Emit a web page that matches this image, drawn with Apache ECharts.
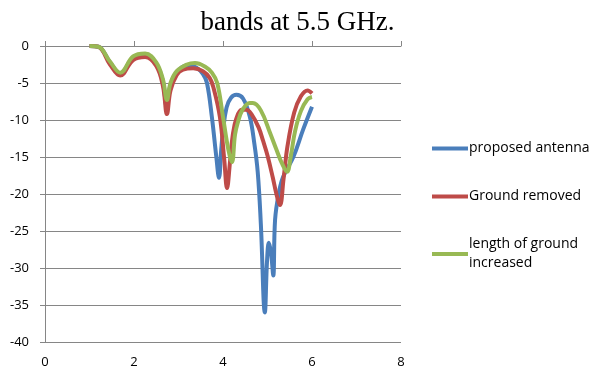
<!DOCTYPE html>
<html>
<head>
<meta charset="utf-8">
<script src="https://cdn.jsdelivr.net/npm/echarts@6/dist/echarts.min.js"></script>
<style>
  html, body { margin: 0; padding: 0; background: #fff; }
  #chart { width: 595px; height: 376px; }
</style>
</head>
<body>
<div id="chart"></div>
<script>
// frequency (GHz) and return loss (dB)
var freqBlue = [1.0, 1.2, 1.46, 1.69, 1.98, 2.25, 2.5, 2.65, 2.73, 2.82, 2.96, 3.2, 3.4, 3.55, 3.64, 3.75, 3.85, 3.91, 3.96, 4.0, 4.08, 4.18, 4.3, 4.45, 4.6, 4.7, 4.78, 4.85, 4.94, 4.99, 5.03, 5.08, 5.13, 5.17, 5.25, 5.35, 5.58, 5.8, 6.0];
var lossBlue = [0, -0.1, -2.2, -3.7, -1.6, -1.2, -2.4, -4.8, -8.0, -5.3, -3.6, -2.6, -2.9, -3.8, -5.0, -9.6, -15, -17.8, -14, -11.5, -8.3, -7.0, -6.6, -7.1, -9.5, -13, -17, -24, -36, -29, -26.6, -28, -31, -23.5, -20, -17.7, -15, -11.3, -8.2];

var freqRed = [1.0, 1.2, 1.46, 1.69, 1.98, 2.25, 2.5, 2.65, 2.74, 2.82, 2.96, 3.1, 3.33, 3.55, 3.7, 3.78, 3.93, 4.03, 4.09, 4.16, 4.22, 4.3, 4.42, 4.52, 4.65, 4.8, 4.9, 5.0, 5.12, 5.2, 5.28, 5.36, 5.45, 5.6, 5.75, 5.9, 6.0];
var lossRed = [0, -0.1, -2.5, -4.0, -1.9, -1.5, -2.7, -5.4, -9.2, -6.0, -3.9, -3.2, -3.0, -3.4, -4.3, -5.5, -9.6, -15.5, -19.2, -15.5, -12, -9.8, -8.6, -8.6, -9.3, -11, -12.8, -14.8, -17.8, -20, -21.5, -18, -13.5, -9, -6.8, -6.0, -6.4];

var freqGreen = [1.0, 1.2, 1.46, 1.69, 1.98, 2.25, 2.5, 2.65, 2.74, 2.82, 2.96, 3.19, 3.37, 3.6, 3.75, 3.87, 4.0, 4.12, 4.2, 4.27, 4.33, 4.44, 4.6, 4.67, 4.85, 5.06, 5.2, 5.32, 5.44, 5.52, 5.62, 5.75, 5.9, 6.0];
var lossGreen = [0, -0.1, -2.1, -3.6, -1.4, -1.0, -2.2, -4.5, -7.3, -5.0, -3.4, -2.5, -2.3, -2.8, -3.6, -5.0, -9.6, -14, -15.7, -12, -10.4, -8.6, -7.7, -7.7, -8.7, -11.8, -14, -15.8, -17.0, -15, -11.5, -8.8, -7.2, -6.9];

var seriesNames = ['proposed antenna', 'Ground removed', 'length of ground\nincreased'];

function pairs(xs, ys) {
  return xs.map(function (x, i) { return [x, ys[i]]; });
}

var chart = echarts.init(document.getElementById('chart'));
var axisGray = '#868686';
var labelFont = { color: '#000', fontSize: 13, fontFamily: 'Open Sans' };

chart.setOption({
  animation: false,
  color: ['#4A7EBB', '#BE4B48', '#98B954'],
  title: {
    text: 'bands at 5.5 GHz.',
    left: 'center',
    top: 4,
    textStyle: { fontFamily: 'Liberation Serif', fontWeight: 'normal', fontSize: 27, color: '#000' }
  },
  grid: { left: 45, top: 46, right: 194, bottom: 34 },
  legend: {
    orient: 'vertical',
    left: 427,
    top: 134,
    itemWidth: 36,
    itemHeight: 4,
    itemGap: 29,
    icon: 'rect',
    textStyle: { color: '#000', fontSize: 14, fontFamily: 'Open Sans', lineHeight: 19, padding: [0, 0, 0, -4] },
    data: seriesNames
  },
  xAxis: [
    {
      type: 'value',
      position: 'top',
      min: 0, max: 8, interval: 2,
      axisLine: { show: true, lineStyle: { color: axisGray } },
      axisTick: { show: true, length: 5, lineStyle: { color: axisGray } },
      axisLabel: { show: false },
      splitLine: { show: false }
    },
    {
      type: 'value',
      position: 'bottom',
      min: 0, max: 8, interval: 2,
      axisLine: { show: false },
      axisTick: { show: false },
      axisLabel: Object.assign({ margin: 14 }, labelFont),
      splitLine: { show: false }
    }
  ],
  yAxis: {
    type: 'value',
    min: -40, max: 0, interval: 5,
    axisLine: { show: true, lineStyle: { color: axisGray } },
    axisTick: { show: true, length: 5, lineStyle: { color: axisGray } },
    axisLabel: Object.assign({ margin: 16 }, labelFont),
    splitLine: { show: true, lineStyle: { color: axisGray, width: 1 } }
  },
  series: [
    { name: seriesNames[0], type: 'line', xAxisIndex: 0, data: pairs(freqBlue, lossBlue) },
    { name: seriesNames[1], type: 'line', xAxisIndex: 0, data: pairs(freqRed, lossRed) },
    { name: seriesNames[2], type: 'line', xAxisIndex: 0, data: pairs(freqGreen, lossGreen) }
  ].map(function (s) {
    s.smooth = 0.4;
    s.showSymbol = false;
    s.symbol = 'none';
    s.lineStyle = { width: 4 };
    return s;
  })
});
</script>
</body>
</html>
